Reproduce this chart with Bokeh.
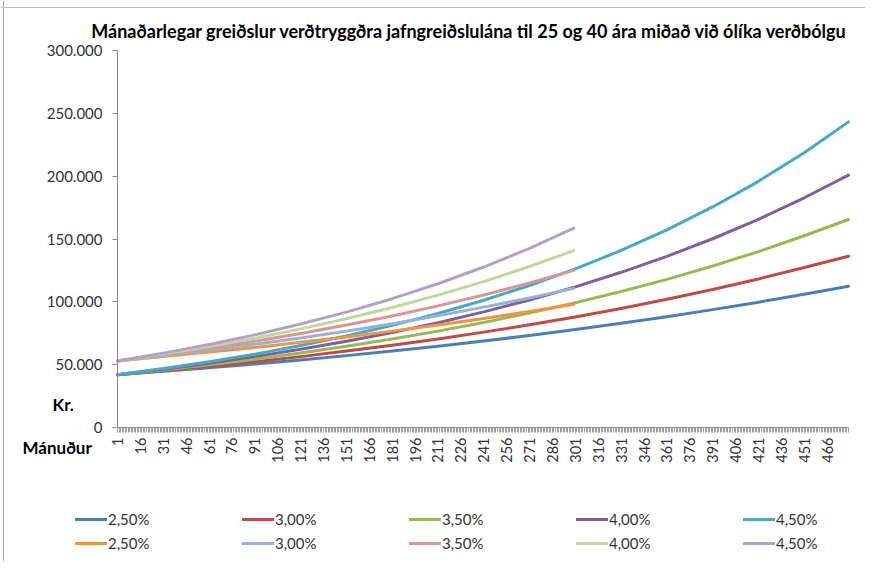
import math
from bokeh.plotting import figure
from bokeh.models import (FixedTicker, Legend, LegendItem, Label, Range1d, LinearAxis, Span)
from bokeh.embed import file_html
from bokeh.resources import INLINE

# ---- data ----
months_40 = [1, 31, 61, 91, 121, 151, 181, 211, 241, 271, 301, 331, 361, 391, 421, 451, 480]
months_25 = [1, 31, 61, 91, 121, 151, 181, 211, 241, 271, 300]

labels = ["2,50%", "3,00%", "3,50%", "4,00%", "4,50%"]

loan40_25 = [42000, 44700, 47500, 50500, 53800, 57200, 60800, 64700, 68800, 73200, 77900, 82900, 88100, 93800, 99700, 106000, 112400]
loan40_30 = [42000, 45200, 48700, 52400, 56400, 60800, 65400, 70500, 75900, 81700, 88000, 94700, 102000, 109800, 118200, 127300, 136300]
loan40_35 = [42000, 45800, 49900, 54400, 59300, 64600, 70400, 76700, 83600, 91100, 99300, 108200, 117900, 128500, 140000, 152600, 165500]
loan40_40 = [42000, 46300, 51100, 56400, 62200, 68600, 75600, 83400, 92000, 101500, 111900, 123500, 136200, 150200, 165700, 182800, 200800]
loan40_45 = [42000, 46900, 52300, 58400, 65200, 72800, 81300, 90700, 101300, 113000, 126200, 140900, 157200, 175500, 195900, 218700, 243200]

loan25_25 = [53000, 56400, 60000, 63700, 67800, 72100, 76700, 81600, 86800, 92300, 98000]
loan25_30 = [53000, 57100, 61400, 66200, 71200, 76700, 82600, 88900, 95800, 103100, 110700]
loan25_35 = [53000, 57800, 62900, 68600, 74800, 81500, 88800, 96800, 105500, 115000, 125000]
loan25_40 = [53000, 58500, 64500, 71100, 78500, 86500, 95500, 105300, 116100, 128100, 140800]
loan25_45 = [53000, 59200, 66000, 73700, 82300, 91800, 102500, 114400, 127700, 142600, 158600]

y_ticks = [0, 50000, 100000, 150000, 200000, 250000, 300000]
y_tick_labels = ["0", "50.000", "100.000", "150.000", "200.000", "250.000", "300.000"]
x_label_ticks = list(range(1, 481, 15))
x_min, x_max = 1, 480
y_min, y_max = 0, 300000

colors40 = ["#4A7EBB", "#BE4B48", "#98B954", "#7D60A0", "#46AAC5"]
colors25 = ["#F69240", "#95B3D7", "#D99694", "#C3D69B", "#B3A2C7"]

FONT = "Lato"
TXT = "#333333"

# ---- layout (pixels) ----
W, H = 865, 561
PLOT_L, PLOT_R, PLOT_T, PLOT_B = 117, 848, 50, 427
xs = (PLOT_R - PLOT_L) / (x_max - x_min)
ys = (PLOT_B - PLOT_T) / (y_max - y_min)
x_range = Range1d(x_min - PLOT_L / xs, x_max + (W - PLOT_R) / xs)
y_range = Range1d(y_min - (H - PLOT_B) / ys, y_max + PLOT_T / ys)

p = figure(width=W, height=H, output_backend="svg", toolbar_location=None,
           x_range=x_range, y_range=y_range, x_axis_location=None, y_axis_location=None,
           min_border_left=0, min_border_right=0, min_border_top=0, min_border_bottom=0)
p.outline_line_color = None
p.xgrid.visible = False
p.ygrid.visible = False
p.background_fill_color = "white"
p.border_fill_color = "white"

# chart-area border (left and top edges visible in the reference)
p.add_layout(Span(location=3, location_units="screen", dimension="height", line_color="#A6A6A6", line_width=1))
p.add_layout(Span(location=H - 7, location_units="screen", dimension="width", line_color="#BFBFBF", line_width=1))

# y axis
yaxis = LinearAxis(fixed_location=x_min, bounds=(y_min, y_max), ticker=FixedTicker(ticks=y_ticks),
                   major_label_overrides={v: s for v, s in zip(y_ticks, y_tick_labels)},
                   major_label_text_font=FONT, major_label_text_font_size="15px",
                   major_label_text_color=TXT, axis_line_color="#868686",
                   major_tick_line_color="#868686", major_tick_in=0, major_tick_out=5,
                   minor_tick_line_color=None, major_label_standoff=10)
p.add_layout(yaxis, "left")

# x axis
xaxis = LinearAxis(fixed_location=y_min, bounds=(x_min, x_max),
                   ticker=FixedTicker(ticks=x_label_ticks, minor_ticks=list(range(x_min, x_max + 1))),
                   major_label_text_font=FONT, major_label_text_font_size="14.5px",
                   major_label_text_color=TXT, major_label_orientation=math.pi / 2,
                   axis_line_color="#868686", major_tick_line_color="#868686",
                   minor_tick_line_color="#A0A0A0", major_tick_in=0, major_tick_out=5,
                   minor_tick_in=0, minor_tick_out=5, major_label_standoff=5)
p.add_layout(xaxis, "below")

items40 = []
items25 = []
series40 = [loan40_25, loan40_30, loan40_35, loan40_40, loan40_45]
series25 = [loan25_25, loan25_30, loan25_35, loan25_40, loan25_45]
for lab, col, yv in zip(labels, colors40, series40):
    r = p.line(months_40, yv, line_color=col, line_width=3, line_cap="round", line_join="round")
    items40.append(LegendItem(label=lab, renderers=[r]))
for lab, col, yv in zip(labels, colors25, series25):
    r = p.line(months_25, yv, line_color=col, line_width=3, line_cap="round", line_join="round")
    items25.append(LegendItem(label=lab, renderers=[r]))

legend = Legend(items=items40 + items25, orientation="horizontal", ncols=5,
                location=(75, 7), padding=0, margin=0, spacing=2,
                glyph_width=32, glyph_height=22, label_height=22, label_width=132,
                label_standoff=1, label_text_font=FONT, label_text_font_size="15px",
                label_text_color=TXT, border_line_color=None, background_fill_alpha=0)
p.add_layout(legend, "center")

p.add_layout(Label(x=469, y=H - 30, x_units="screen", y_units="screen",
                   text="Mánaðarlegar greiðslur verðtryggðra jafngreiðslulána til 25 og 40 ára miðað við ólíka verðbólgu",
                   text_font=FONT, text_font_size="18px", text_font_style="bold",
                   text_color="#000000", text_align="center", text_baseline="middle"))
p.add_layout(Label(x=52, y=H - 404, x_units="screen", y_units="screen", text="Kr.",
                   text_font=FONT, text_font_size="17px", text_font_style="bold",
                   text_color="#000000", text_baseline="middle"))
p.add_layout(Label(x=22, y=H - 447, x_units="screen", y_units="screen", text="Mánuður",
                   text_font=FONT, text_font_size="17px", text_font_style="bold",
                   text_color="#000000", text_baseline="middle"))

open("out.html", "w").write(file_html(p, INLINE))
